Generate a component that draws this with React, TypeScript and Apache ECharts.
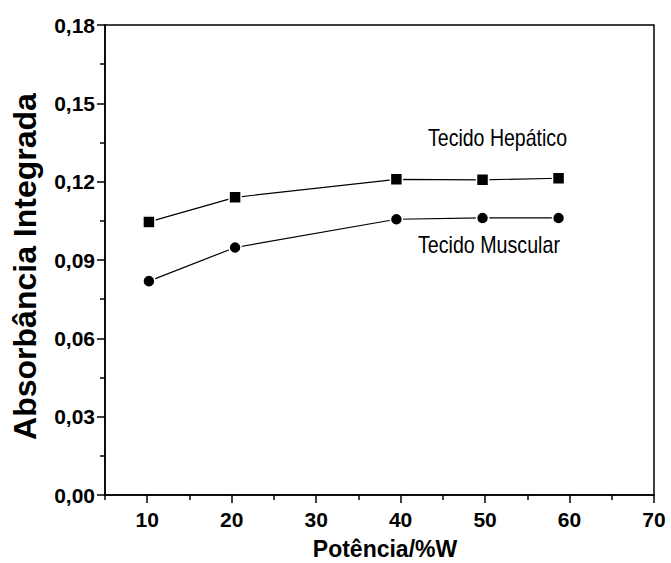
import React, { useEffect, useRef } from "react";
import * as echarts from "echarts";

const potencia: number[] = [10.2, 20.4, 39.5, 49.7, 58.7];
const hepatico: number[] = [0.1046, 0.114, 0.1209, 0.1207, 0.1213];
const muscular: number[] = [0.0819, 0.0948, 0.1056, 0.1061, 0.1061];
const xMajorTicks: number[] = [10, 20, 30, 40, 50, 60, 70];
const xMinorTicks: number[] = [5, 15, 25, 35, 45, 55, 65];
const seriesNames: string[] = ["Tecido Hepático", "Tecido Muscular"];
const xTitle = "Potência/%W";
const yTitle = "Absorbância Integrada";

const mainFont = "'Liberation Sans', Arial, sans-serif";

export default function App() {
  const ref = useRef<HTMLDivElement>(null);
  useEffect(() => {
    if (!ref.current) return;
    const chart = echarts.init(ref.current, null, { renderer: "svg" });
    const pairs = (xs: number[], ys: number[]) => xs.map((x, i) => [x, ys[i]]);
    chart.setOption({
      animation: false,
      backgroundColor: "#ffffff",
      grid: {
        left: 105,
        right: 17,
        top: 25,
        bottom: 68,
        show: true,
        borderColor: "#000",
        borderWidth: 1.5,
      },
      xAxis: [
        {
          type: "value",
          min: 5,
          max: 70,
          axisLine: { show: true, onZero: false, lineStyle: { color: "#000", width: 1.5 } },
          axisTick: { show: true, customValues: xMajorTicks, length: 8, inside: false, lineStyle: { color: "#000", width: 1.5 } },
          axisLabel: {
            customValues: xMajorTicks,
            fontFamily: mainFont,
            fontWeight: "bold",
            fontSize: 21,
            color: "#000",
            margin: 14,
          },
          splitLine: { show: false },
        },
        {
          type: "value",
          min: 5,
          max: 70,
          position: "bottom",
          axisLine: { show: false },
          axisTick: { show: true, customValues: xMinorTicks, length: 5, lineStyle: { color: "#000", width: 1.5 } },
          axisLabel: { show: false },
          splitLine: { show: false },
        },
      ],
      yAxis: {
        type: "value",
        min: 0,
        max: 0.18,
        interval: 0.03,
        axisLine: { show: true, lineStyle: { color: "#000", width: 1.5 } },
        axisTick: { show: true, length: 8, lineStyle: { color: "#000", width: 1.5 } },
        minorTick: { show: true, splitNumber: 2, length: 5, lineStyle: { color: "#000", width: 1.5 } },
        axisLabel: {
          fontFamily: mainFont,
          fontWeight: "bold",
          fontSize: 21,
          color: "#000",
          margin: 10,
          formatter: (v: number) => v.toFixed(2).replace(".", ","),
        },
        splitLine: { show: false },
      },
      series: [
        {
          name: seriesNames[0],
          type: "line",
          data: pairs(potencia, hepatico),
          symbol: "rect",
          symbolSize: 12,
          itemStyle: { color: "#000", borderColor: "#fff", borderWidth: 1.5 },
          lineStyle: { color: "#000", width: 1.2 },
        },
        {
          name: seriesNames[1],
          type: "line",
          data: pairs(potencia, muscular),
          symbol: "circle",
          symbolSize: 12,
          itemStyle: { color: "#000", borderColor: "#fff", borderWidth: 1.5 },
          lineStyle: { color: "#000", width: 1.2 },
        },
      ],
      graphic: [
        {
          type: "text",
          x: 428,
          y: 138.5,
          scaleX: 0.85,
          style: {
            text: seriesNames[0],
            font: `23px ${mainFont}`,
            fill: "#000",
            align: "left",
            verticalAlign: "middle",
          },
        },
        {
          type: "text",
          x: 418,
          y: 245,
          scaleX: 0.855,
          style: {
            text: seriesNames[1],
            font: `23px ${mainFont}`,
            fill: "#000",
            align: "left",
            verticalAlign: "middle",
          },
        },
        {
          type: "text",
          x: 385,
          y: 548.5,
          style: {
            text: xTitle,
            font: `bold 23px ${mainFont}`,
            fill: "#000",
            align: "center",
            verticalAlign: "middle",
          },
        },
        {
          type: "text",
          x: 25,
          y: 266.5,
          rotation: Math.PI / 2,
          style: {
            text: yTitle,
            font: `bold 32px ${mainFont}`,
            fill: "#000",
            align: "center",
            verticalAlign: "middle",
          },
        },
      ],
    });
    return () => chart.dispose();
  }, []);
  return (
    <div
      ref={ref}
      style={{ position: "absolute", left: 0, top: 0, width: 671, height: 563 }}
    />
  );
}
